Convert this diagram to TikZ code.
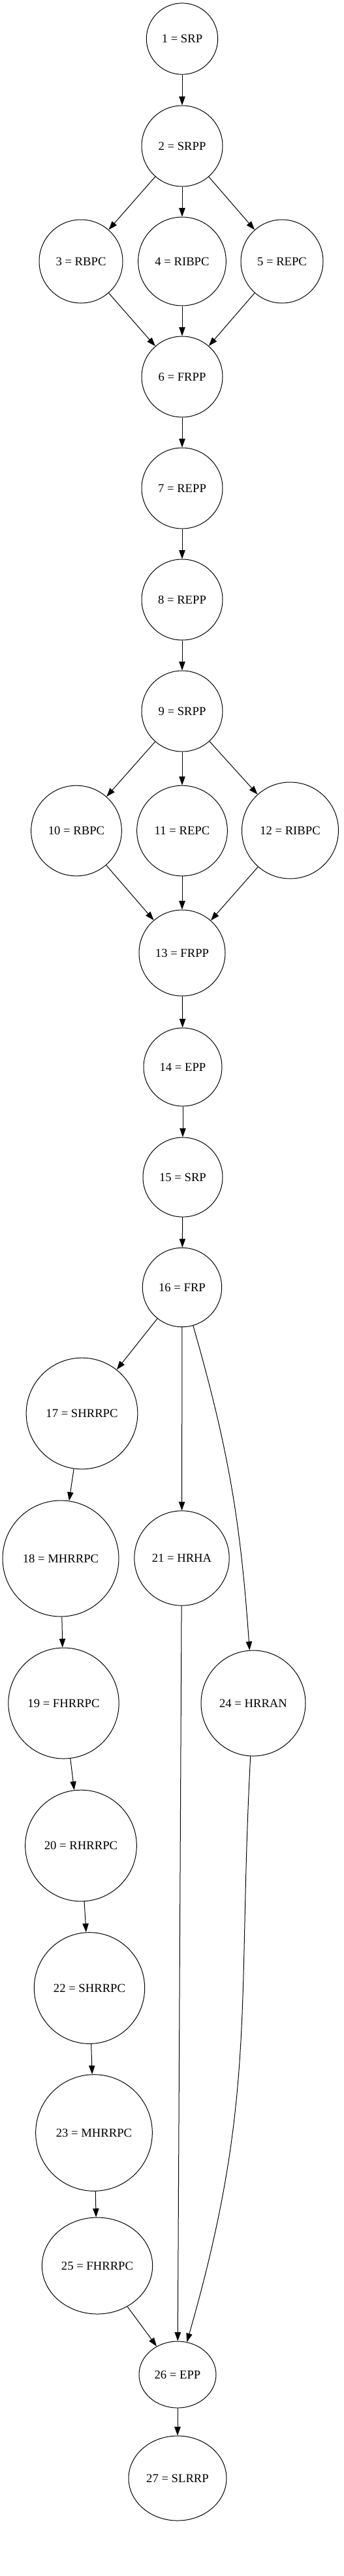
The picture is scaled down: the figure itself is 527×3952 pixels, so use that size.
\documentclass[tikz,border=0pt]{standalone}
\usepackage{fontspec}
\setmainfont{Liberation Serif}
\usepackage{tikz}
\usetikzlibrary{
	shapes.geometric,
	arrows.meta
}

\begin{document}
\begin{tikzpicture}[
    x=0.75pt, y=-0.75pt,
    state/.style={ellipse, draw, line width=0.75pt, inner sep=0pt, align=center, font=\fontsize{14}{16}\selectfont},
    arrow/.style={-{Triangle[length=10pt, width=7pt]}, line width=0.75pt}
]
\useasboundingbox (0,0) rectangle (527,3952);

\node[state, minimum width=82pt, minimum height=82pt] (n1) at (279,59.5) {1 = SRP};
\node[state, minimum width=93pt, minimum height=93pt] (n2) at (279,224) {2 = SRPP};
\node[state, minimum width=96pt, minimum height=96pt] (n3) at (124,401) {3 = RBPC};
\node[state, minimum width=101pt, minimum height=102pt] (n4) at (279,401) {4 = RIBPC};
\node[state, minimum width=94.5pt, minimum height=96pt] (n5) at (432,401) {5 = REPC};
\node[state, minimum width=93pt, minimum height=93pt] (n6) at (279,578) {6 = FRPP};
\node[state, minimum width=93pt, minimum height=93pt] (n7) at (279,749) {7 = REPP};
\node[state, minimum width=93pt, minimum height=93pt] (n8) at (279,920) {8 = REPP};
\node[state, minimum width=93pt, minimum height=93pt] (n9) at (279,1091) {9 = SRPP};
\node[state, minimum width=104pt, minimum height=104pt] (n10) at (117,1274.5) {10 = RBPC};
\node[state, minimum width=104pt, minimum height=104pt] (n11) at (279,1274.5) {11 = REPC};
\node[state, minimum width=111pt, minimum height=111pt] (n12) at (444.5,1274) {12 = RIBPC};
\node[state, minimum width=99pt, minimum height=99pt] (n13) at (279,1462) {13 = FRPP};
\node[state, minimum width=90pt, minimum height=90pt] (n14) at (280,1637) {14 = EPP};
\node[state, minimum width=91.5pt, minimum height=91.5pt] (n15) at (280,1806) {15 = SRP};
\node[state, minimum width=91pt, minimum height=91pt] (n16) at (279,1975) {16 = FRP};
\node[state, minimum width=128pt, minimum height=128pt] (n17) at (125.5,2168.5) {17 = SHRRPC};
\node[state, minimum width=133.5pt, minimum height=133.5pt] (n18) at (93,2391) {18 = MHRRPC};
\node[state, minimum width=109pt, minimum height=109pt] (n21) at (278.5,2390.5) {21 = HRHA};
\node[state, minimum width=127pt, minimum height=127.5pt] (n19) at (97.5,2613) {19 = FHRRPC};
\node[state, minimum width=120pt, minimum height=121.5pt] (n24) at (388,2613) {24 = HRRAN};
\node[state, minimum width=128pt, minimum height=128pt] (n20) at (124,2831.5) {20 = RHRRPC};
\node[state, minimum width=127pt, minimum height=128pt] (n22) at (137,3050) {22 = SHRRPC};
\node[state, minimum width=134pt, minimum height=134pt] (n23) at (144,3272) {23 = MHRRPC};
\node[state, minimum width=127pt, minimum height=111pt] (n25) at (149,3476) {25 = FHRRPC};
\node[state, minimum width=88.5pt, minimum height=76.5pt] (n26) at (272,3643) {26 = EPP};
\node[state, minimum width=112.5pt, minimum height=97.5pt] (n27) at (272,3802) {27 = SLRRP};

\draw[arrow] (n1) -- (n2);
\draw[arrow] (n2) -- (n3);
\draw[arrow] (n2) -- (n4);
\draw[arrow] (n2) -- (n5);
\draw[arrow] (n3) -- (n6);
\draw[arrow] (n4) -- (n6);
\draw[arrow] (n5) -- (n6);
\draw[arrow] (n6) -- (n7);
\draw[arrow] (n7) -- (n8);
\draw[arrow] (n8) -- (n9);
\draw[arrow] (n9) -- (n10);
\draw[arrow] (n9) -- (n11);
\draw[arrow] (n9) -- (n12);
\draw[arrow] (n10) -- (n13);
\draw[arrow] (n11) -- (n13);
\draw[arrow] (n12) -- (n13);
\draw[arrow] (n13) -- (n14);
\draw[arrow] (n14) -- (n15);
\draw[arrow] (n15) -- (n16);
\draw[arrow] (n16) -- (n17);
\draw[arrow] (n16) -- (n21);
\draw[arrow] (n16) to[out=-74, in=94] (n24);
\draw[arrow] (n17) -- (n18);
\draw[arrow] (n18) -- (n19);
\draw[arrow] (n19) -- (n20);
\draw[arrow] (n20) -- (n22);
\draw[arrow] (n22) -- (n23);
\draw[arrow] (n23) -- (n25);
\draw[arrow] (n25) -- (n26);
\draw[arrow] (n21) -- (n26);
\draw[arrow] (n24) to[out=-93, in=74, looseness=1.1] (n26);
\draw[arrow] (n26) -- (n27);
\end{tikzpicture}
\end{document}
